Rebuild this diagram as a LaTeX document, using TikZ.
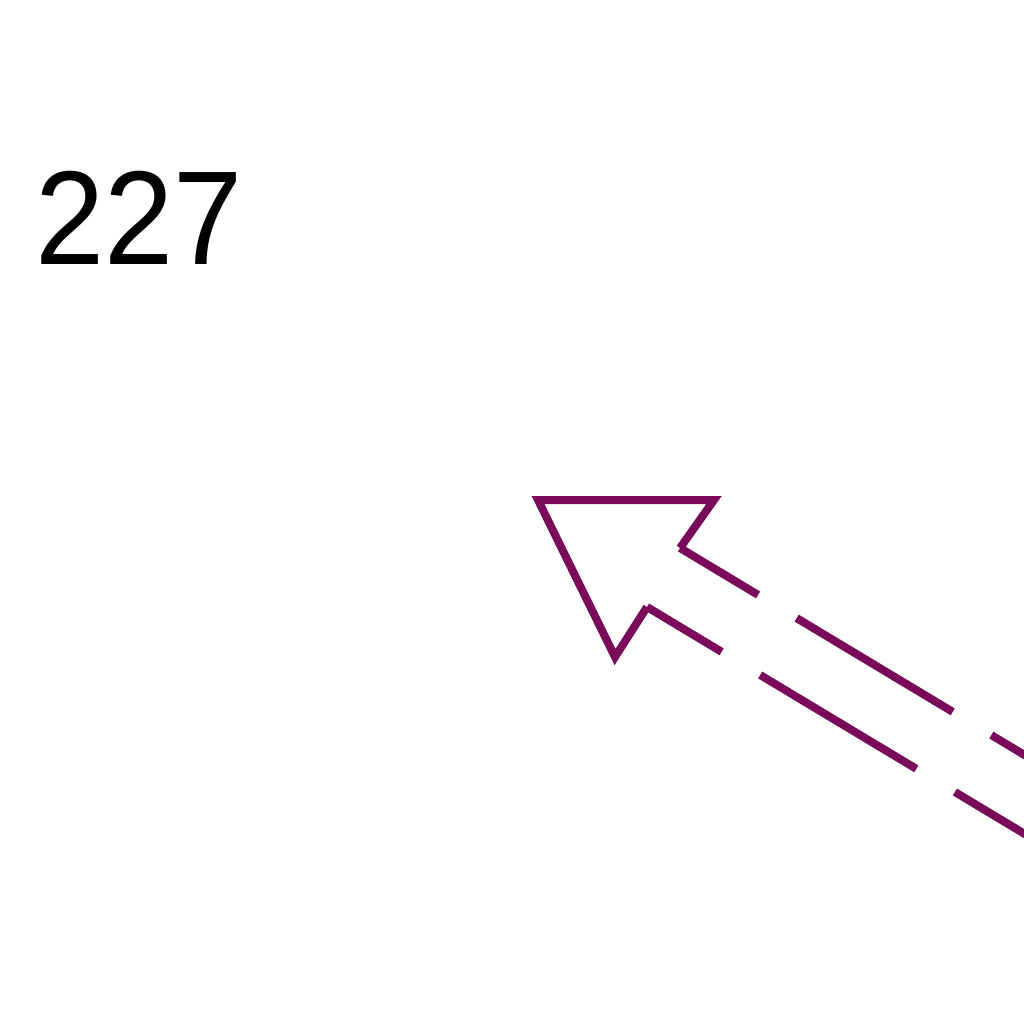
\documentclass[tikz,border=0pt]{standalone}
\usepackage{fontspec}
\setmainfont{Liberation Sans}
\definecolor{arrowpurple}{RGB}{122,10,90}
\begin{document}
\begin{tikzpicture}[x=0.01cm,y=-0.01cm,
  outline/.style={draw=arrowpurple,line width=0.08cm,line join=miter},
  shaft/.style={outline,dash pattern=on 1.82cm off 0.45cm}]
\useasboundingbox (0,0) rectangle (1024,1024);
\clip (0,0) rectangle (1024,1024);
\node[anchor=base west,inner sep=0pt,font=\fontsize{38}{38}\selectfont] (lbl) at (35,264) {\scalebox{0.93}[1]{227}};
\coordinate (T) at (538,500);
\coordinate (B1) at (714,500);
\coordinate (B2) at (615,657);
\coordinate (N1) at (680,548);
\coordinate (N2) at (647,607);
\coordinate (U) at (1151,831);
\coordinate (L) at (1118,890);
\draw[outline] (N1) -- (B1) -- (T) -- (B2) -- (N2);
\draw[shaft,dash phase=0.91cm] (N1) -- (U);
\draw[shaft,dash phase=0.95cm] (N2) -- (L);
\end{tikzpicture}
\end{document}
